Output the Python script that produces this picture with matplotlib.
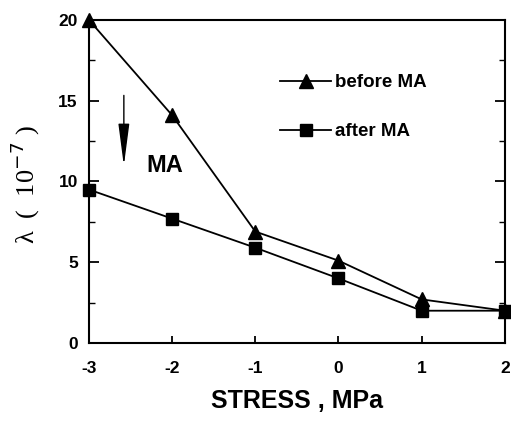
import matplotlib
matplotlib.use("Agg")
import matplotlib.pyplot as plt

stress = [-3, -2, -1, 0, 1, 2]
before_ma = [20.0, 14.1, 6.9, 5.1, 2.7, 2.0]
after_ma = [9.5, 7.7, 5.9, 4.0, 2.0, 2.0]
xticks = [-3, -2, -1, 0, 1, 2]
yticks = [0, 5, 10, 15, 20]

plt.rcParams['font.family'] = ['Liberation Sans', 'DejaVu Sans']
plt.rcParams['axes.unicode_minus'] = False
fig = plt.figure(figsize=(5.11, 4.24), dpi=100)
ax = fig.add_axes([0.174, 0.191, 0.814, 0.762])

ax.plot(stress, before_ma, color='black', lw=1.3, marker='^', ms=10, clip_on=False, zorder=3)
ax.plot(stress, after_ma, color='black', lw=1.3, marker='s', ms=9, clip_on=False, zorder=3)

ax.set_xlim(-3, 2)
ax.set_ylim(0, 20)
ax.set_xticks(xticks)
ax.set_yticks(yticks)
ax.set_yticks([2.5, 7.5, 12.5, 17.5], minor=True)
ax.tick_params(axis='both', which='both', direction='in', labelsize=12.5)
ax.tick_params(axis='y', which='major', length=7, width=1.3, right=True)
ax.tick_params(axis='y', which='minor', length=4, width=1.0, right=True)
ax.tick_params(axis='x', which='major', length=5, width=1.3, pad=13)
ax.tick_params(axis='y', which='both', pad=8)
for lab in ax.get_xticklabels() + ax.get_yticklabels():
    lab.set_fontweight('bold')
for sp in ax.spines.values():
    sp.set_linewidth(1.5)

ax.set_xlabel('STRESS , MPa', fontsize=18, fontweight='bold', labelpad=9)
ax.set_ylabel(r'λ  (  10$^{-7}$ )', fontsize=19, family=['Liberation Serif', 'DejaVu Serif'])
ax.yaxis.set_label_coords(-0.112, 0.49)

ax.annotate('', xy=(-2.58, 10.8), xytext=(-2.58, 15.5),
            arrowprops=dict(arrowstyle='-|>,head_length=1.3,head_width=0.17', color='black', lw=1.0, mutation_scale=20))
ax.text(-2.31, 11.0, 'MA', fontsize=17, fontweight='bold', va='center', ha='left')

ax.legend(['before MA', 'after MA'], loc='upper left', bbox_to_anchor=(0.42, 0.885),
          frameon=False, handlelength=2.7, labelspacing=1.7,
          handletextpad=0.2, prop={'weight': 'bold', 'size': 13.5})

fig.savefig('out.png', dpi=100)
